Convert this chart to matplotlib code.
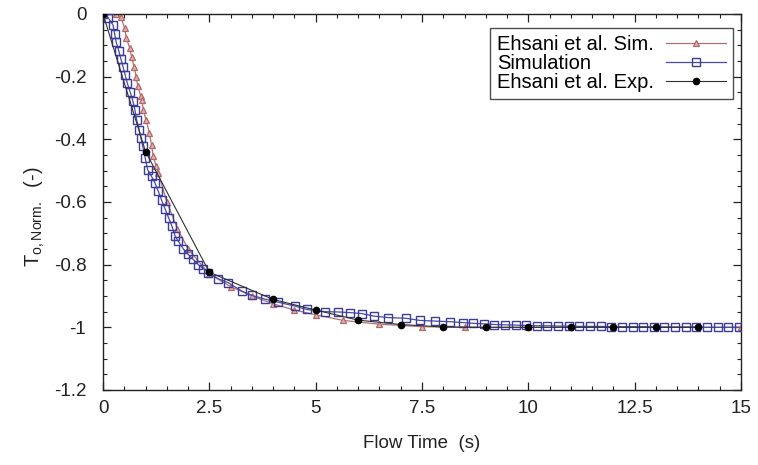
import matplotlib
matplotlib.use("Agg")
import matplotlib.pyplot as plt
from matplotlib.ticker import MultipleLocator, FixedLocator

plt.rcParams['font.family'] = ['Liberation Sans', 'DejaVu Sans']
plt.rcParams['mathtext.default'] = 'regular'

# Simulation (open squares)
sim_t = [0.0, 0.12, 0.235, 0.275, 0.31, 0.37, 0.42, 0.47, 0.52, 0.57, 0.64, 0.70,
         0.75, 0.79, 0.85, 0.89, 0.93, 0.99, 1.05, 1.14, 1.22, 1.30, 1.38, 1.46,
         1.54, 1.62, 1.69, 1.77, 1.89, 2.00, 2.12, 2.24, 2.36, 2.48, 2.71, 2.95,
         3.26, 3.50, 3.81, 4.12, 4.51, 4.79, 5.22, 5.53, 5.81, 6.08, 6.36, 6.71,
         7.12, 7.45, 7.80, 8.16, 8.47, 8.70, 8.95, 9.20, 9.45, 9.70, 9.95, 10.20,
         10.45, 10.70, 10.95, 11.20, 11.45, 11.70, 11.95, 12.20, 12.45, 12.70,
         12.95, 13.20, 13.45, 13.70, 13.95, 14.20, 14.45, 14.70, 14.95]
sim_v = [0.0, -0.012, -0.035, -0.065, -0.09, -0.117, -0.143, -0.168, -0.194, -0.22,
         -0.25, -0.277, -0.306, -0.338, -0.369, -0.396, -0.42, -0.458, -0.497,
         -0.518, -0.539, -0.566, -0.595, -0.622, -0.65, -0.677, -0.707, -0.725,
         -0.75, -0.767, -0.783, -0.80, -0.813, -0.826, -0.845, -0.858, -0.884,
         -0.898, -0.91, -0.92, -0.932, -0.943, -0.95, -0.951, -0.953, -0.956,
         -0.964, -0.969, -0.971, -0.978, -0.98, -0.982, -0.985, -0.987, -0.989,
         -0.991, -0.992, -0.993, -0.994, -0.995, -0.995, -0.996, -0.996, -0.997,
         -0.997, -0.997, -0.998, -0.998, -0.998, -0.998, -0.999, -0.999, -0.999,
         -0.999, -0.999, -1.0, -1.0, -1.0, -1.0]

# Ehsani et al. Sim. (triangles)
es_t = [0.0, 0.30, 0.42, 0.51, 0.55, 0.63, 0.67, 0.73, 0.78, 0.82, 0.89, 0.91,
        0.95, 1.01, 1.09, 1.14, 1.18, 1.25, 1.30, 1.50, 1.75, 2.00, 2.50, 3.00,
        3.50, 4.00, 4.50, 5.00, 5.65, 6.50, 7.50, 8.50, 10.0, 12.0, 15.0]
es_v = [0.0, 0.0, -0.009, -0.046, -0.077, -0.109, -0.136, -0.168, -0.20, -0.231,
        -0.263, -0.274, -0.306, -0.338, -0.38, -0.417, -0.454, -0.486, -0.507,
        -0.60, -0.685, -0.75, -0.83, -0.87, -0.90, -0.925, -0.945, -0.96, -0.978,
        -0.99, -0.998, -1.0, -1.0, -1.0, -1.0]

# Ehsani et al. Exp. (filled circles)
ex_t = [0.0, 1.0, 2.5, 4.0, 5.0, 6.0, 7.0, 8.0, 9.0, 10.0, 11.0, 12.0, 13.0, 14.0]
ex_v = [0.0, -0.439, -0.824, -0.911, -0.945, -0.977, -0.991, -0.999, -1.0,
        -1.0, -1.0, -1.0, -1.0, -1.0]

x_ticks = [0, 2.5, 5, 7.5, 10, 12.5, 15]
x_tick_labels = ['0', '2.5', '5', '7.5', '10', '12.5', '15']
y_ticks = [0, -0.2, -0.4, -0.6, -0.8, -1.0, -1.2]
y_tick_labels = ['0', '-0.2', '-0.4', '-0.6', '-0.8', '-1', '-1.2']

fig = plt.figure(figsize=(7.58, 4.65), dpi=100)
ax = fig.add_axes([0.1359, 0.1613, 0.8417, 0.8086])

ax.plot(es_t, es_v, color='#b07070', lw=0.9, marker='^', ms=4.5,
        mfc='#e0b0b0', mec='#b06868', mew=0.9, label='Ehsani et al. Sim.', zorder=2)
ax.plot(sim_t, sim_v, color='#4a4aa8', lw=0.9, marker='s', ms=5.2,
        mfc='none', mec='#3c3c9c', mew=1.0, label='Simulation', zorder=3)
ax.plot(ex_t, ex_v, color='#303030', lw=0.8, marker='o', ms=4.5,
        mfc='black', mec='black', label='Ehsani et al. Exp.', zorder=4)

ax.set_xlim(0, 15)
ax.set_ylim(-1.2, 0)
ax.xaxis.set_major_locator(FixedLocator(x_ticks))
ax.set_xticklabels(x_tick_labels)
ax.yaxis.set_major_locator(FixedLocator(y_ticks))
ax.set_yticklabels(y_tick_labels)
ax.xaxis.set_minor_locator(MultipleLocator(0.5))
ax.yaxis.set_minor_locator(MultipleLocator(0.05))
ax.tick_params(which='both', direction='in', top=True, right=True, labelsize=13.5,
               colors='#222222')
ax.tick_params(which='major', length=6, width=0.9)
ax.tick_params(axis='y', which='major', pad=12)
ax.tick_params(axis='x', which='major', pad=7)
ax.tick_params(which='minor', length=3, width=0.8)
for s in ax.spines.values():
    s.set_linewidth(1.0)
    s.set_color('#222222')

ax.set_xlabel('Flow Time  (s)', fontsize=13.5, color='#222222', labelpad=13)
ax.set_ylabel(r'T$_{o,Norm.}$  (-)', fontsize=14.5, color='#222222')
ax.yaxis.set_label_coords(-0.088, 0.46)

leg_fs = 14.5
leg_tp = 0.6
leg = ax.legend(loc='upper right', bbox_to_anchor=(0.988, 0.963), markerfirst=False,
                fontsize=leg_fs, frameon=True, fancybox=False, edgecolor='#222222',
                handlelength=3.0, borderpad=0.35, labelspacing=0.0,
                handletextpad=leg_tp, borderaxespad=0.0)
leg.get_frame().set_linewidth(1.0)

# left-align legend labels while keeping handles right-aligned
fig.canvas.draw()
renderer = fig.canvas.get_renderer()
texts = leg.get_texts()
widths = [t.get_window_extent(renderer).width for t in texts]
wmax = max(widths)
items = leg._legend_handle_box.get_children()[0].get_children()
for item, w in zip(items, widths):
    item.sep = leg_tp * leg_fs + (wmax - w) * 72.0 / fig.dpi

fig.savefig('out.png', dpi=100)
